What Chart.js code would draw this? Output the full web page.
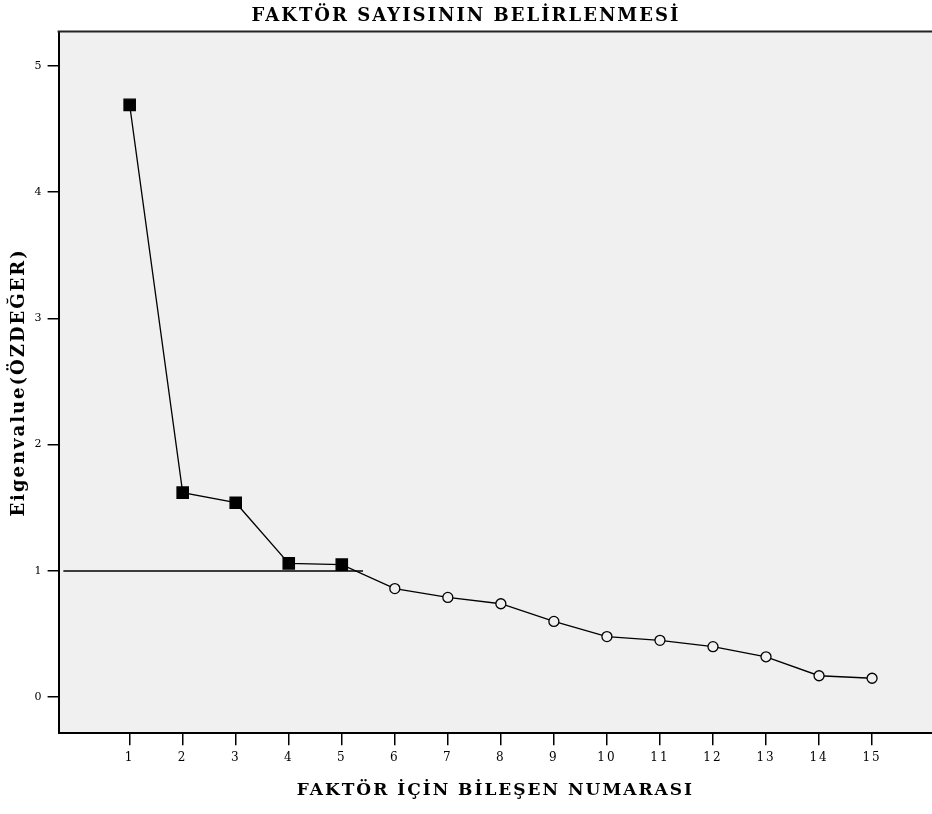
<!DOCTYPE html>
<html lang="tr">
  <head>
    <meta charset="UTF-8" />
    <title>Faktör Sayısının Belirlenmesi</title>
    <script src="https://cdn.jsdelivr.net/npm/chart.js"></script>
    <style>
      html, body { margin: 0; padding: 0; background: #fff; }
      #wrap { width: 932px; height: 814px; }
    </style>
  </head>
  <body>
    <div id="wrap"><canvas id="scree"></canvas></div>
    <script>
      // component numbers and their eigenvalues
      const components = [1, 2, 3, 4, 5, 6, 7, 8, 9, 10, 11, 12, 13, 14, 15];
      const eigenvalues = [4.69, 1.62, 1.54, 1.06, 1.05, 0.86, 0.79, 0.74, 0.60, 0.48, 0.45, 0.40, 0.32, 0.17, 0.15];
      // horizontal reference line at eigenvalue = 1
      const cutoffX = [-0.25, 5.4];
      const cutoffY = [1, 1];
      const xTicks = components;
      const yTicks = [0, 1, 2, 3, 4, 5];

      const serif = "'DejaVu Serif', 'Liberation Serif', serif";

      // grey plot area, top frame line, and wide letter spacing like the original
      const plotBg = {
        id: "plotBg",
        beforeDraw(chart) {
          const { ctx, chartArea: a } = chart;
          ctx.save();
          ctx.fillStyle = "#f0f0f0";
          ctx.fillRect(a.left, a.top, a.right - a.left, a.bottom - a.top);
          ctx.restore();
          ctx.letterSpacing = "2px";
        },
        afterDraw(chart) {
          const { ctx, chartArea: a } = chart;
          ctx.letterSpacing = "0px";
          ctx.save();
          ctx.strokeStyle = "#222";
          ctx.lineWidth = 2;
          ctx.beginPath();
          ctx.moveTo(a.left - 1, a.top);
          ctx.lineTo(a.right, a.top);
          ctx.stroke();
          ctx.restore();
        },
      };

      new Chart(document.getElementById("scree"), {
        type: "scatter",
        data: {
          datasets: [
            {
              label: "Cutoff",
              data: cutoffX.map((x, i) => ({ x: x, y: cutoffY[i] })),
              showLine: true,
              borderColor: "#000",
              borderWidth: 1.5,
              pointRadius: 0,
            },
            {
              label: "Eigenvalue",
              data: components.map((c, i) => ({ x: c, y: eigenvalues[i] })),
              showLine: true,
              borderColor: "#000",
              borderWidth: 1.3,
              pointStyle: eigenvalues.map((v) => (v > 1 ? "rect" : "circle")),
              pointRadius: eigenvalues.map((v) => (v > 1 ? 8 : 5)),
              pointBackgroundColor: eigenvalues.map((v) => (v > 1 ? "#000" : "#f0f0f0")),
              pointBorderColor: "#000",
              pointBorderWidth: 1.3,
            },
          ],
        },
        options: {
          responsive: true,
          maintainAspectRatio: false,
          animation: false,
          layout: { padding: 0, autoPadding: false },
          plugins: {
            legend: { display: false },
            tooltip: { enabled: false },
            title: {
              display: true,
              text: "FAKTÖR SAYISININ BELİRLENMESİ",
              color: "#000",
              font: { family: serif, size: 18, weight: "bold" },
              padding: { top: 6, bottom: 4 },
            },
          },
          scales: {
            x: {
              type: "linear",
              min: -0.34,
              max: 16.13,
              afterBuildTicks: (s) => { s.ticks = xTicks.map((v) => ({ value: v })); },
              ticks: { color: "#000", font: { family: serif, size: 12 }, padding: 5, maxRotation: 0 },
              grid: { drawOnChartArea: false, drawTicks: true, tickLength: 12, color: "#000", lineWidth: 1.5 },
              border: { color: "#000", width: 2 },
              title: {
                display: true,
                text: "FAKTÖR İÇİN BİLEŞEN NUMARASI",
                color: "#000",
                font: { family: serif, size: 17, weight: "bold" },
                padding: { top: 11, bottom: 13 },
              },
            },
            y: {
              min: -0.285,
              max: 5.27,
              afterBuildTicks: (s) => { s.ticks = yTicks.map((v) => ({ value: v })); },
              ticks: { color: "#000", font: { family: serif, size: 11 }, padding: 4 },
              grid: { drawOnChartArea: false, drawTicks: true, tickLength: 11, color: "#000", lineWidth: 1.5 },
              border: { color: "#000", width: 2 },
              title: {
                display: true,
                text: "Eigenvalue(ÖZDEĞER)",
                color: "#000",
                font: { family: serif, size: 18, weight: "bold" },
                padding: { top: 9, bottom: 2 },
              },
            },
          },
        },
        plugins: [plotBg],
      });
    </script>
  </body>
</html>
